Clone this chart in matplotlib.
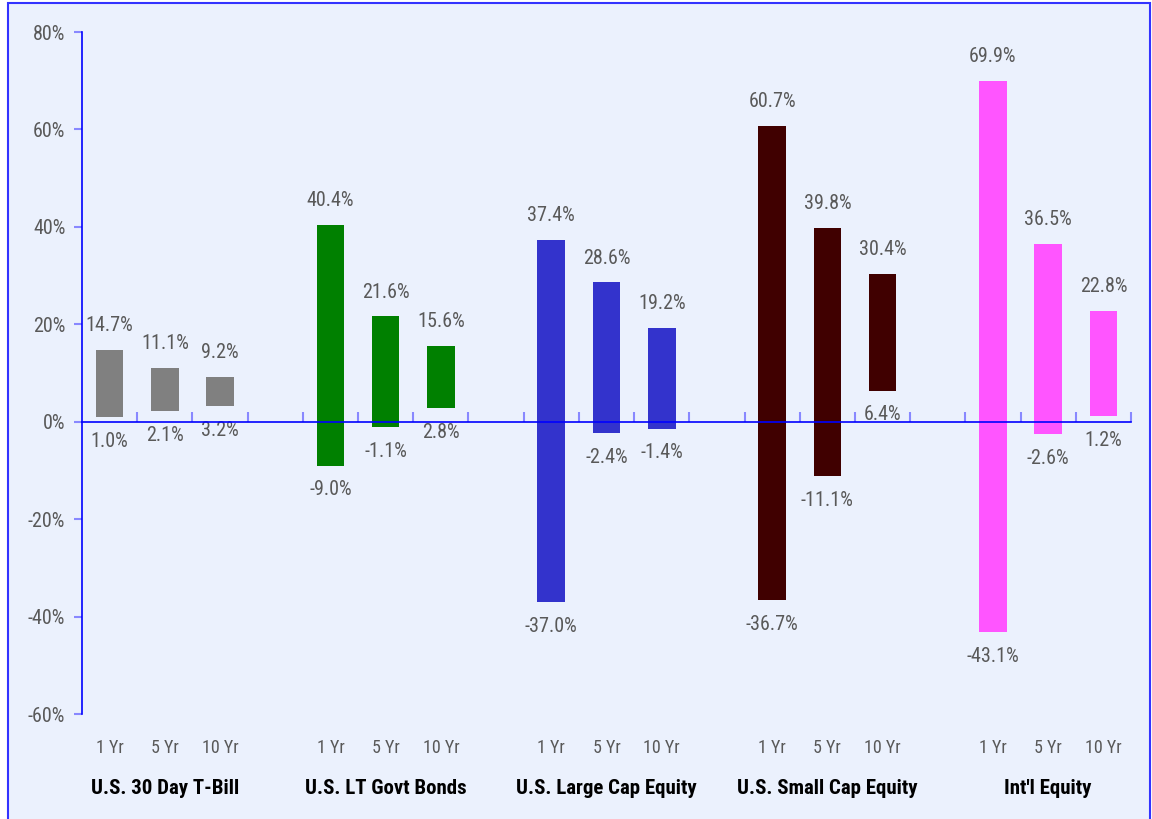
import numpy as np
import matplotlib.pyplot as plt
from matplotlib.patches import Rectangle
from matplotlib import transforms, font_manager

installed = {f.name for f in font_manager.fontManager.ttflist}
narrow = [n for n in ['Liberation Sans Narrow', 'Roboto Condensed', 'Open Sans Condensed',
                      'DejaVu Sans Condensed'] if n in installed]
plt.rcParams['font.family'] = narrow + ['DejaVu Sans']
plt.rcParams['font.stretch'] = 'condensed'

groups = ['U.S. 30 Day T-Bill', 'U.S. LT Govt Bonds', 'U.S. Large Cap Equity',
          'U.S. Small Cap Equity', "Int'l Equity"]
periods = ['1 Yr', '5 Yr', '10 Yr']
highs = [[14.7, 11.1, 9.2],
         [40.4, 21.6, 15.6],
         [37.4, 28.6, 19.2],
         [60.7, 39.8, 30.4],
         [69.9, 36.5, 22.8]]
lows = [[1.0, 2.1, 3.2],
        [-9.0, -1.1, 2.8],
        [-37.0, -2.4, -1.4],
        [-36.7, -11.1, 6.4],
        [-43.1, -2.6, 1.2]]
colors = ['#808080', '#008000', '#3333CC', '#400000', '#FF55FF']

bg = '#EBF1FD'
fig = plt.figure(figsize=(11.52, 8.19), dpi=100, facecolor='white')
fig.patches.append(Rectangle((8 / 1152, -0.05), 1142 / 1152, 1 - 3 / 819 + 0.05,
                             transform=fig.transFigure, facecolor=bg,
                             edgecolor='#3333FF', linewidth=1.5, zorder=-10))
ax = fig.add_axes([82 / 1152, 1 - 714 / 819, 1049 / 1152, 682 / 819])
ax.set_facecolor('none')

lab_col = '#595959'
for g in range(len(groups)):
    for p in range(3):
        x = g * 4 + p
        hi, lo = highs[g][p], lows[g][p]
        ax.bar(x, hi - lo, bottom=lo, width=0.5, color=colors[g], zorder=2)
        ax.text(x, hi + 5.0, f'{hi:.1f}%', ha='center', va='center',
                fontsize=14.5, color=lab_col)
        ax.text(x, lo - 5.0, f'{lo:.1f}%', ha='center', va='center',
                fontsize=14.5, color=lab_col)

trans = transforms.blended_transform_factory(ax.transData, ax.transAxes)
for g in range(len(groups)):
    for p in range(3):
        ax.text(g * 4 + p, -0.05, periods[p], transform=trans, ha='center',
                va='center', fontsize=13, color=lab_col)
    ax.text(g * 4 + 1, -0.109, groups[g], transform=trans, ha='center',
            va='center', fontsize=15, fontweight='bold', color='black')

ax.set_xlim(-0.5, 18.5)
ax.set_ylim(-60, 80)
ax.set_yticks(np.arange(-60, 81, 20))
ax.set_yticklabels([f'{v}%' for v in range(-60, 81, 20)], fontsize=14.5, color=lab_col)
ax.set_xticks(np.arange(0.5, 19, 1))
ax.set_xticklabels([])

for s in ['top', 'right']:
    ax.spines[s].set_visible(False)
ax.spines['bottom'].set_position(('data', 0))
ax.spines['bottom'].set_color('#0000FF')
ax.spines['left'].set_color('#0000FF')
ax.spines['bottom'].set_linewidth(1.2)
ax.spines['left'].set_linewidth(1.2)
ax.spines['bottom'].set_zorder(3)
ax.tick_params(axis='x', direction='in', length=7, color='#8888FF', width=1.5)
ax.tick_params(axis='y', direction='out', length=6, color='#8888FF', width=1.5, pad=6)

fig.savefig('out.png', dpi=100, facecolor='white')
